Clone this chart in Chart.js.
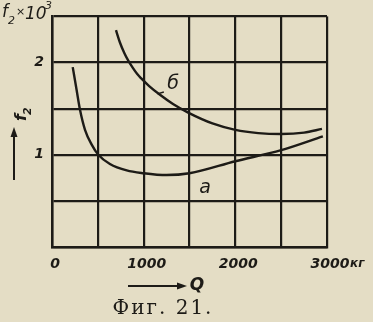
<!DOCTYPE html>
<html>
<head>
<meta charset="utf-8">
<script src="https://cdn.jsdelivr.net/npm/chart.js@4.4.1/dist/chart.umd.min.js"></script>
<style>
  html, body { margin: 0; padding: 0; background: #e4ddc5; }
  #myChart { display: block; }
</style>
</head>
<body>
<canvas id="myChart" width="373" height="322"></canvas>
<script>
// curve "а"
const qA = [226, 269, 305, 360, 433, 505, 632, 815, 1000, 1250, 1500, 2000, 2500, 2955];
const fA = [1.95, 1.70, 1.49, 1.27, 1.11, 1.00, 0.90, 0.83, 0.80, 0.78, 0.80, 0.93, 1.05, 1.20];
// curve "б"
const qB = [698, 740, 790, 832, 880, 930, 971, 1060, 1178, 1320, 1480, 1750, 2000, 2250, 2500, 2750, 2945];
const fB = [2.35, 2.22, 2.10, 2.02, 1.945, 1.875, 1.83, 1.745, 1.65, 1.55, 1.46, 1.34, 1.27, 1.235, 1.225, 1.24, 1.28];

const xTicks = [0, 1000, 2000, 3000];
const yTicks = [1, 2];

const ink = '#1d1b17';
const tickFont = { family: 'DejaVu Sans', size: 14, weight: 'bold', style: 'italic' };

function pts(xs, ys) {
    return xs.map(function(x, i) { return { x: x, y: ys[i] }; });
}

const extras = {
    id: 'extras',
    afterDraw: function(chart) {
        const ctx = chart.ctx;
        const xs = chart.scales.x;
        const ys = chart.scales.y;
        ctx.save();
        ctx.fillStyle = ink;
        ctx.strokeStyle = ink;

        // unit after 3000
        ctx.font = 'bold italic 12px "DejaVu Sans"';
        ctx.textBaseline = 'middle';
        ctx.textAlign = 'left';
        ctx.fillText('кг', 350, 264);

        // curve labels
        ctx.font = 'italic 19px "DejaVu Sans"';
        ctx.textAlign = 'center';
        ctx.fillText('б', xs.getPixelForValue(1320), ys.getPixelForValue(1.77));
        ctx.fillText('а', xs.getPixelForValue(1670), ys.getPixelForValue(0.64));
        ctx.lineWidth = 1.5;
        ctx.beginPath();
        ctx.moveTo(xs.getPixelForValue(1150), ys.getPixelForValue(1.66));
        ctx.lineTo(xs.getPixelForValue(1220), ys.getPixelForValue(1.68));
        ctx.stroke();

        // top-left axis label f2 x 10^3
        ctx.textAlign = 'left';
        ctx.textBaseline = 'alphabetic';
        ctx.font = 'italic 17px "DejaVu Sans"';
        ctx.fillText('f', 2, 17);
        ctx.font = 'italic 11px "DejaVu Sans"';
        ctx.fillText('2', 8, 24);
        ctx.fillText('×', 16, 15);
        ctx.font = 'italic 17px "DejaVu Sans"';
        ctx.fillText('10', 25, 19);
        ctx.font = 'italic 11px "DejaVu Sans"';
        ctx.fillText('3', 45, 9);

        // y title, rotated, with arrow
        ctx.save();
        ctx.translate(21, 113);
        ctx.rotate(-Math.PI / 2);
        ctx.font = 'bold italic 16px "DejaVu Sans"';
        ctx.textAlign = 'left';
        ctx.fillText('f', -8, 5);
        ctx.font = 'bold italic 11px "DejaVu Sans"';
        ctx.fillText('2', -2, 10);
        ctx.restore();
        ctx.lineWidth = 2;
        ctx.beginPath();
        ctx.moveTo(14, 180);
        ctx.lineTo(14, 132);
        ctx.stroke();
        ctx.beginPath();
        ctx.moveTo(14, 127);
        ctx.lineTo(10.5, 137);
        ctx.lineTo(17.5, 137);
        ctx.closePath();
        ctx.fill();

        // x title with arrow
        ctx.beginPath();
        ctx.moveTo(128, 286);
        ctx.lineTo(180, 286);
        ctx.stroke();
        ctx.beginPath();
        ctx.moveTo(187, 286);
        ctx.lineTo(177, 282.5);
        ctx.lineTo(177, 289.5);
        ctx.closePath();
        ctx.fill();
        ctx.font = 'bold italic 17px "DejaVu Sans"';
        ctx.textAlign = 'center';
        ctx.textBaseline = 'middle';
        ctx.fillText('Q', 197, 286);

        // caption
        ctx.font = '20px "DejaVu Serif"';
        ctx.letterSpacing = '2px';
        ctx.fillText('Фиг. 21.', 163, 309);
        ctx.restore();
    }
};

const data = {
    datasets: [{
        label: 'а',
        data: pts(qA, fA),
        borderColor: ink,
        borderWidth: 2.4,
        pointRadius: 0,
        showLine: true,
        cubicInterpolationMode: 'monotone'
    }, {
        label: 'б',
        data: pts(qB, fB),
        borderColor: ink,
        borderWidth: 2.4,
        pointRadius: 0,
        showLine: true,
        cubicInterpolationMode: 'monotone'
    }]
};

const config = {
    type: 'scatter',
    data: data,
    options: {
        responsive: false,
        animation: false,
        layout: { padding: { top: 14, right: 46, bottom: 0, left: 0 } },
        plugins: { legend: { display: false }, tooltip: { enabled: false } },
        scales: {
            x: {
                type: 'linear',
                min: 0,
                max: 3000,
                afterFit: function(scale) { scale.height = 75; },
                grid: { color: ink, lineWidth: 2.2, drawTicks: false },
                border: { color: ink, width: 2.5 },
                ticks: {
                    stepSize: 500,
                    autoSkip: false,
                    maxRotation: 0,
                    padding: 9,
                    labelOffset: 3,
                    color: ink,
                    font: tickFont,
                    callback: function(v) { return xTicks.includes(v) ? String(v) : ''; }
                }
            },
            y: {
                min: 0,
                max: 2.5,
                afterFit: function(scale) { scale.width = 52; },
                grid: { color: ink, lineWidth: 2.2, drawTicks: false },
                border: { color: ink, width: 2.5 },
                ticks: {
                    stepSize: 0.5,
                    autoSkip: false,
                    padding: 8,
                    color: ink,
                    font: tickFont,
                    callback: function(v) { return yTicks.includes(v) ? String(v) : ''; }
                }
            }
        }
    },
    plugins: [extras]
};

const myChart = new Chart(
    document.getElementById('myChart'),
    config
);
</script>
</body>
</html>
